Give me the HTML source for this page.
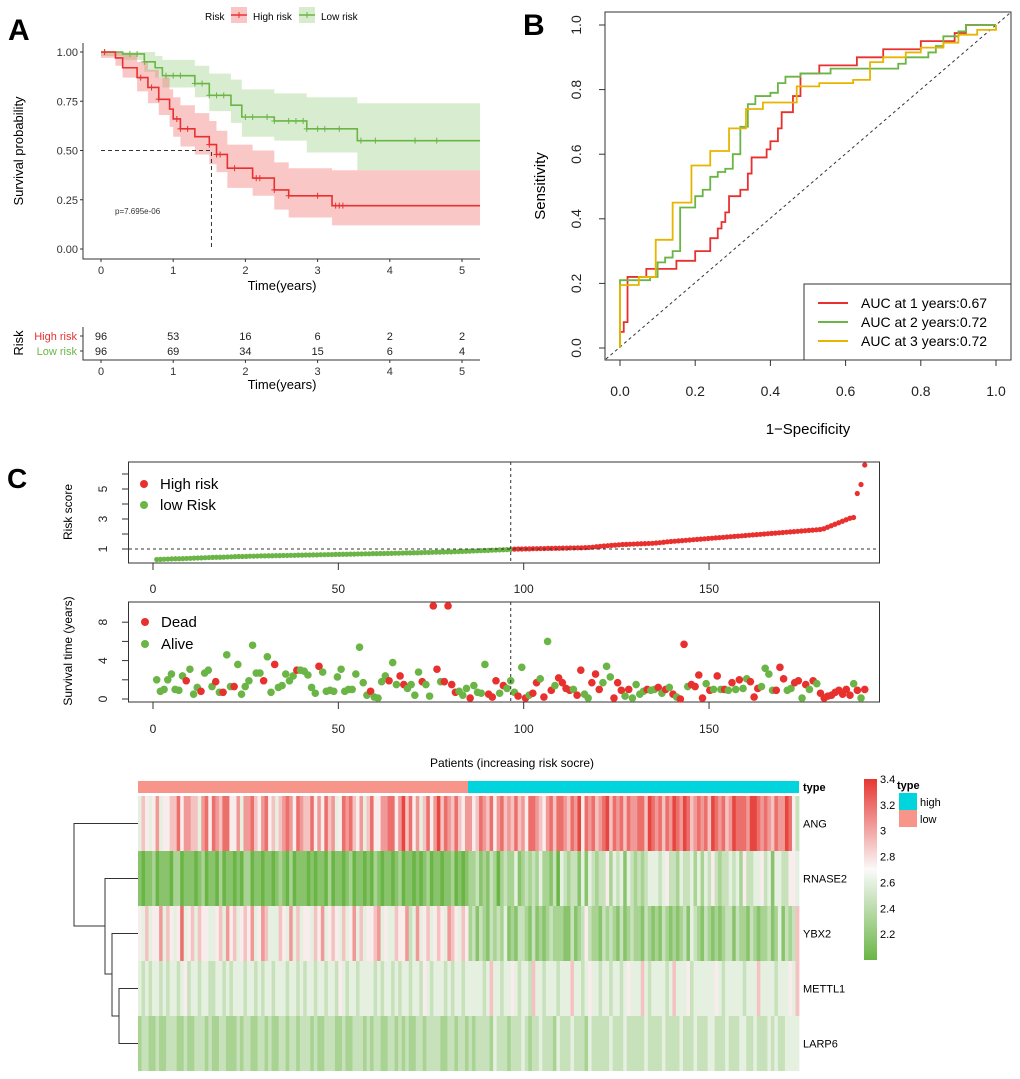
<!DOCTYPE html>
<html><head><meta charset="utf-8"><style>
body{margin:0;background:#fff;}
svg{display:block;font-family:"Liberation Sans",sans-serif;}
</style></head><body>
<svg id="fig" width="1020" height="1079" viewBox="0 0 1020 1079" xmlns="http://www.w3.org/2000/svg">
<g id="A"></g>
<g id="B"></g>
<g id="C1"></g>
<g id="C2"></g>
<g id="H"></g>
</svg>
<script>
// ===== Panel A data =====
const hiT=[0,0.2,0.3,0.5,0.65,0.8,0.95,1.0,1.1,1.3,1.5,1.6,1.75,2.1,2.4,2.6,3.2];
const hiS=[1,0.97,0.92,0.87,0.82,0.76,0.71,0.66,0.61,0.57,0.53,0.48,0.41,0.36,0.30,0.27,0.22];
const hiU=[1,1,0.99,0.95,0.91,0.87,0.81,0.77,0.73,0.69,0.65,0.60,0.53,0.50,0.44,0.41,0.40];
const hiL=[0.97,0.93,0.87,0.80,0.74,0.68,0.62,0.57,0.52,0.48,0.43,0.39,0.31,0.27,0.20,0.16,0.12];
const loT=[0,0.3,0.6,0.75,0.85,1.3,1.5,1.8,1.95,2.4,2.85,3.55];
const loS=[1,0.99,0.95,0.92,0.88,0.84,0.78,0.73,0.67,0.65,0.61,0.55];
const loU=[1,1,1,0.98,0.96,0.93,0.89,0.86,0.81,0.79,0.77,0.74];
const loL=[0.98,0.96,0.90,0.87,0.82,0.77,0.70,0.64,0.57,0.55,0.49,0.40];
const hiCens=[0.05,0.55,0.7,0.8,1.05,1.1,1.2,1.5,1.6,1.65,1.85,2.15,2.2,2.4,2.6,3.0,3.25,3.3,3.35];
const loCens=[0.05,0.4,0.5,0.6,0.9,1.0,1.1,1.3,1.4,1.5,1.6,1.7,2.0,2.1,2.3,2.4,2.6,2.7,2.8,2.85,3.0,3.1,3.3,3.6,3.8,4.35,4.65];
const atRiskHigh=[96,53,16,6,2,2];
const atRiskLow=[96,69,34,15,6,4];
const kmTicksX=[0,1,2,3,4,5];
const kmTicksY=["0.00","0.25","0.50","0.75","1.00"];
// ===== Panel B data =====
const rocRedX=[0,0,0.01,0.01,0.02,0.02,0.07,0.07,0.15,0.15,0.2,0.2,0.24,0.24,0.26,0.26,0.27,0.27,0.28,0.28,0.29,0.29,0.32,0.32,0.34,0.34,0.35,0.35,0.39,0.39,0.4,0.4,0.42,0.42,0.43,0.43,0.46,0.46,0.48,0.48,0.53,0.53,0.63,0.63,0.7,0.7,0.8,0.8,0.89,0.89,0.92,0.92,1];
const rocRedY=[0,0.05,0.05,0.08,0.08,0.22,0.22,0.245,0.245,0.27,0.27,0.3,0.3,0.34,0.34,0.37,0.37,0.39,0.39,0.42,0.42,0.47,0.47,0.49,0.49,0.54,0.54,0.59,0.59,0.615,0.615,0.64,0.64,0.68,0.68,0.73,0.73,0.78,0.78,0.85,0.85,0.875,0.875,0.9,0.9,0.925,0.925,0.95,0.95,0.975,0.975,1,1];
const rocGreenX=[0,0,0.08,0.08,0.1,0.1,0.12,0.12,0.14,0.14,0.16,0.16,0.2,0.2,0.22,0.22,0.24,0.24,0.26,0.26,0.28,0.28,0.3,0.3,0.32,0.32,0.34,0.34,0.36,0.36,0.4,0.4,0.42,0.42,0.44,0.44,0.48,0.48,0.56,0.56,0.74,0.74,0.76,0.76,0.82,0.82,0.84,0.84,0.86,0.86,0.9,0.9,0.92,0.92,1];
const rocGreenY=[0,0.21,0.21,0.22,0.22,0.265,0.265,0.28,0.28,0.3,0.3,0.435,0.435,0.47,0.47,0.49,0.49,0.53,0.53,0.545,0.545,0.555,0.555,0.6,0.6,0.685,0.685,0.755,0.755,0.78,0.78,0.79,0.79,0.82,0.82,0.84,0.84,0.85,0.85,0.865,0.865,0.88,0.88,0.9,0.9,0.915,0.915,0.935,0.935,0.965,0.965,0.98,0.98,1,1];
const rocYellowX=[0,0,0.05,0.05,0.095,0.095,0.14,0.14,0.19,0.19,0.24,0.24,0.29,0.29,0.335,0.335,0.38,0.38,0.47,0.47,0.53,0.53,0.62,0.62,0.665,0.665,0.7,0.7,0.76,0.76,0.8,0.8,0.86,0.86,0.9,0.9,0.95,0.95,1,1];
const rocYellowY=[0,0.195,0.195,0.22,0.22,0.335,0.335,0.45,0.45,0.565,0.565,0.61,0.61,0.68,0.68,0.74,0.74,0.76,0.76,0.81,0.81,0.82,0.82,0.83,0.83,0.885,0.885,0.9,0.9,0.915,0.915,0.93,0.93,0.945,0.945,0.97,0.97,0.985,0.985,1];
const rocLabels=["AUC at 1 years:0.67","AUC at 2 years:0.72","AUC at 3 years:0.72"];
const rocTicks=["0.0","0.2","0.4","0.6","0.8","1.0"];
// ===== Panel C data =====
const riskScores=[0.30,0.31,0.32,0.33,0.34,0.35,0.35,0.36,0.37,0.38,0.39,0.40,0.41,0.42,0.43,0.44,0.45,0.45,0.46,0.47,0.48,0.49,0.50,0.50,0.51,0.52,0.52,0.53,0.54,0.54,0.55,0.55,0.56,0.56,0.57,0.57,0.58,0.58,0.59,0.59,0.60,0.60,0.61,0.61,0.62,0.62,0.63,0.63,0.64,0.64,0.65,0.65,0.66,0.66,0.67,0.67,0.68,0.68,0.69,0.69,0.70,0.70,0.71,0.71,0.72,0.72,0.73,0.74,0.74,0.75,0.75,0.76,0.77,0.77,0.78,0.79,0.79,0.80,0.81,0.81,0.82,0.83,0.84,0.85,0.86,0.87,0.88,0.89,0.90,0.91,0.92,0.93,0.94,0.95,0.96,0.97,
0.99,1.00,1.00,1.01,1.01,1.02,1.02,1.03,1.03,1.04,1.04,1.05,1.05,1.06,1.06,1.07,1.07,1.08,1.08,1.09,1.10,1.12,1.15,1.18,1.20,1.22,1.24,1.26,1.28,1.30,1.31,1.32,1.33,1.34,1.35,1.36,1.37,1.38,1.40,1.42,1.45,1.48,1.50,1.52,1.54,1.56,1.58,1.60,1.62,1.64,1.66,1.68,1.70,1.72,1.74,1.76,1.78,1.80,1.82,1.84,1.86,1.88,1.90,1.92,1.94,1.96,1.98,2.00,2.02,2.04,2.06,2.08,2.10,2.12,2.14,2.16,2.18,2.20,2.22,2.24,2.26,2.28,2.30,2.35,2.45,2.55,2.65,2.75,2.85,2.95,3.05,3.10,4.70,5.30,6.60];
const survTimes=[2.0,0.8,1.0,2.0,2.6,1.0,0.9,2.4,1.9,3.1,0.5,1.2,0.8,2.7,3.0,1.3,1.8,0.7,0.7,4.6,1.3,1.3,3.6,0.5,1.3,1.9,5.6,2.7,2.7,1.9,4.4,0.7,3.6,1.2,1.4,2.6,1.9,2.4,3.0,3.0,2.9,2.5,1.2,0.6,3.4,2.8,0.8,0.9,0.8,2.3,3.1,0.8,1.0,1.0,2.6,5.4,1.7,0.4,0.8,0.2,0.1,1.8,2.4,1.9,3.8,1.5,2.4,1.5,1.1,1.5,0.4,2.8,1.8,1.5,0.3,9.7,3.1,1.8,1.8,9.7,1.5,0.7,0.8,0.4,1.1,0.1,1.4,0.7,0.6,3.6,0.5,0.2,1.9,0.6,1.4,1.1,1.9,0.7,0.3,3.3,0.1,0.4,0.6,1.7,2.1,0.2,6.0,0.9,1.4,2.2,1.7,1.1,0.9,1.0,0.4,3.0,0.5,0.1,1.7,2.6,1.0,1.7,3.4,2.3,0.1,1.7,0.9,0.3,1.0,0.1,1.5,0.5,0.8,1.0,0.9,1.0,1.2,0.6,1.0,1.2,0.5,0.2,0.0,5.7,1.3,1.5,1.3,2.5,0.1,1.6,0.9,1.0,2.4,1.0,1.0,0.9,1.7,1.0,2.0,1.1,2.1,1.8,0.2,1.1,1.3,3.2,2.6,0.9,0.9,3.3,2.1,0.9,1.1,1.7,1.9,0.1,1.5,1.0,1.9,1.6,0.6,0.1,0.3,0.4,0.7,0.9,0.5,1.0,0.4,1.6,0.9,0.1,1.0];
const survStatus="AAAAAAAADAAADAAADADAADAAAAAAADAADAAAAADAAAAADAAAAAAAAAAAAADAAAADAADDAAAADAADDADDDDAAADAAAADDDADAAADADADDADADADDDDADDAADDDAAADDDADAAAADAADADADADDADDDDADADADADADAADDDAAAADDDAADDADADADDDDDDDDDADADAD";
const ctickX=[0,50,100,150];
// ===== Heatmap data (digit d -> value 2.0 + 0.15*d) =====
const genes=["ANG","RNASE2","YBX2","METTL1","LARP6"];
const hmRows=[
"4654574556685776647858768855747786578564678758766857586745878657468557788579685746857968768657"+"7568768578676867588765786887687958786789687868778869878687987986787869878679888799878768779853",
"1011201110220111012011020110102201101101210201110101102011012011010210110120110101201101120101"+"2231213202322412323242213043233141432335243414323234443453324334242435323343425334453414433554",
"5464557465458456465544564756456574576444654746455465745654645746455674544655734745645654765465"+"2313213232412133213121232221131235322132321312322132121321212314321321212331322132122312413236",
"4343443434434534434433443434443443434434443443434434434435434434444343443434434435434443434434"+"4444346443445434436443444344464434544344344345444643444434644453444444543444443444644443444546",
"2332232233322322333232233222323322332322332332333232233322322333232332233232322332333322332332"+"3233332433323334323343332433343332433333433343333343333433334333433344333433344334333434334444"
];
const colorTicks=["3.4","3.2","3","2.8","2.6","2.4","2.2"];
const colorTickVals=[3.4,3.2,3.0,2.8,2.6,2.4,2.2];
</script>
<script>
const NS="http://www.w3.org/2000/svg";
function mk(parent,tag,attrs,text){const e=document.createElementNS(NS,tag);for(const k in attrs)e.setAttribute(k,attrs[k]);if(text!==undefined)e.textContent=text;parent.appendChild(e);return e;}
const RED="#e8312f",GREEN="#6ab546",YEL="#e8b400";

// ================= Panel A =================
(function(){
const g=document.getElementById('A');
const X=t=>101+t*72.2, Y=s=>249-s*197;
let l=mk(g,'text',{x:8,y:40,'font-size':30,'font-weight':'bold'},'A');


// legend
let t=mk(g,'text',{x:205,y:20,'font-size':10},'Risk');


const lg=[[231,"rgba(240,110,110,0.4)",RED,"High risk",253],[299,"rgba(140,200,110,0.35)",GREEN,"Low risk",321]];
lg.forEach(d=>{const gg=mk(g,'g',{});


mk(gg,'rect',{x:d[0],y:7,width:16,height:16,fill:d[1]});
mk(gg,'line',{x1:d[0],x2:d[0]+16,y1:15,y2:15,stroke:d[2],'stroke-width':1.5});
mk(gg,'line',{x1:d[0]+8,x2:d[0]+8,y1:12,y2:18,stroke:d[2],'stroke-width':1});
mk(gg,'text',{x:d[4],y:20,'font-size':10},d[3]);});
// bands
function band(T,U,L,col,name){let up=[],lo=[];for(let i=0;i<T.length;i++){const t1=i+1<T.length?T[i+1]:5.25;up.push([X(T[i]),Y(U[i])],[X(t1),Y(U[i])]);lo.push([X(T[i]),Y(L[i])],[X(t1),Y(L[i])]);}
const pts=up.concat(lo.reverse()).map(p=>p.join(',')).join(' ');
const p=mk(g,'polygon',{points:pts,fill:col});

}
band(loT,loU,loL,"rgba(125,195,95,0.3)","low-risk-ci-band");
band(hiT,hiU,hiL,"rgba(240,95,95,0.35)","high-risk-ci-band");
function curve(T,S,col,name,cens){let d=`M${X(T[0])},${Y(S[0])}`;for(let i=1;i<T.length;i++){d+=`H${X(T[i])}V${Y(S[i])}`;}d+=`H${X(5.25)}`;
const p=mk(g,'path',{d:d,fill:'none',stroke:col,'stroke-width':1.6});


cens.forEach(c=>{let s=S[0];for(let i=0;i<T.length;i++)if(T[i]<=c)s=S[i];
const m=mk(g,'path',{d:`M${X(c)},${Y(s)-3}v6M${X(c)-3},${Y(s)}h6`,stroke:col,'stroke-width':1});

});}
curve(loT,loS,GREEN,"low-risk-curve",loCens);
curve(hiT,hiS,RED,"high-risk-curve",hiCens);
// median lines
const md=mk(g,'path',{d:`M${X(0)},${Y(0.5)}H${X(1.53)}V${Y(0)}`,fill:'none',stroke:'#333','stroke-dasharray':'4,3','stroke-width':1});


// axes
const ax=mk(g,'path',{d:'M83,43V259H480',fill:'none',stroke:'#333','stroke-width':1});


kmTicksY.forEach(v=>{const y=Y(+v);mk(g,'line',{x1:80,x2:83,y1:y,y2:y,stroke:'#333'});
const tt=mk(g,'text',{x:78,y:y+4,'font-size':11,'text-anchor':'end',fill:'#333'},v);

});
kmTicksX.forEach(v=>{const x=X(v);mk(g,'line',{x1:x,x2:x,y1:259,y2:262,stroke:'#333'});
const tt=mk(g,'text',{x:x,y:274,'font-size':11,'text-anchor':'middle',fill:'#333'},v);

});
let xt=mk(g,'text',{x:282,y:290,'font-size':13,'text-anchor':'middle'},'Time(years)');


let yt=mk(g,'text',{x:0,y:0,'font-size':13,'text-anchor':'middle',transform:'translate(23,151) rotate(-90)'},'Survival probability');


let pv=mk(g,'text',{x:115,y:214,'font-size':8,fill:'#333'},'p=7.695e-06');


// risk table
const ra=mk(g,'path',{d:'M83,327V360H480',fill:'none',stroke:'#333','stroke-width':1});


[[atRiskHigh,340,RED,'High risk'],[atRiskLow,355,GREEN,'Low risk']].forEach(r=>{
mk(g,'line',{x1:80,x2:83,y1:r[1]-4,y2:r[1]-4,stroke:'#333'});
const lab=mk(g,'text',{x:77,y:r[1],'font-size':11,'text-anchor':'end',fill:r[2]},r[3]);


r[0].forEach((n,i)=>{const c=mk(g,'text',{x:X(kmTicksX[i]),y:r[1],'font-size':11,'text-anchor':'middle',fill:'#222'},n);

});});
kmTicksX.forEach(v=>{const x=X(v);mk(g,'line',{x1:x,x2:x,y1:360,y2:363,stroke:'#333'});
const tt=mk(g,'text',{x:x,y:375,'font-size':11,'text-anchor':'middle',fill:'#333'},v);

});
let xt2=mk(g,'text',{x:282,y:389,'font-size':13,'text-anchor':'middle'},'Time(years)');


let rt=mk(g,'text',{x:0,y:0,'font-size':13,'text-anchor':'middle',transform:'translate(23,343) rotate(-90)'},'Risk');


})();

// ================= Panel B =================
(function(){
const g=document.getElementById('B');
const X=v=>620+v*376, Y=v=>348-v*323;
let l=mk(g,'text',{x:523,y:35,'font-size':30,'font-weight':'bold'},'B');


const box=mk(g,'rect',{x:605,y:12,width:406,height:348,fill:'none',stroke:'#333','stroke-width':1});


const dg=mk(g,'line',{x1:606,y1:359,x2:1010,y2:13,stroke:'#333','stroke-dasharray':'3,3','stroke-width':1});


[[rocRedX,rocRedY,RED,'roc-curve-1-year'],[rocGreenX,rocGreenY,GREEN,'roc-curve-2-year'],[rocYellowX,rocYellowY,YEL,'roc-curve-3-year']].forEach(c=>{
const pts=c[0].map((x,i)=>X(x)+','+Y(c[1][i])).join(' ');
const p=mk(g,'polyline',{points:pts,fill:'none',stroke:c[2],'stroke-width':1.8});

});
rocTicks.forEach(v=>{const x=X(+v),y=Y(+v);
mk(g,'line',{x1:x,x2:x,y1:360,y2:366,stroke:'#333'});
const tx=mk(g,'text',{x:x,y:396,'font-size':14,'text-anchor':'middle',fill:'#222'},v);


mk(g,'line',{x1:599,x2:605,y1:y,y2:y,stroke:'#333'});
const ty=mk(g,'text',{x:0,y:0,'font-size':14,'text-anchor':'middle',fill:'#222',transform:`translate(581,${y}) rotate(-90)`},v);

});
let xt=mk(g,'text',{x:808,y:434,'font-size':15,'text-anchor':'middle'},'1\u2212Specificity');


let yt=mk(g,'text',{x:0,y:0,'font-size':15,'text-anchor':'middle',transform:'translate(545,186) rotate(-90)'},'Sensitivity');


const lb=mk(g,'rect',{x:804,y:284,width:207,height:76,fill:'#fff',stroke:'#333'});


[RED,GREEN,YEL].forEach((c,i)=>{const y=303+i*19;const gg=mk(g,'g',{});


mk(gg,'line',{x1:818,x2:848,y1:y,y2:y,stroke:c,'stroke-width':2});
mk(gg,'text',{x:861,y:y+5,'font-size':14},rocLabels[i]);});
})();

// ================= Panel C risk score =================
(function(){
const g=document.getElementById('C1');
const n=riskScores.length;
const X=i=>153+(i+1)*3.707*(192/n), Y=v=>549-(v-1)*15;
let l=mk(g,'text',{x:7,y:488,'font-size':28,'font-weight':'bold'},'C');


const box=mk(g,'rect',{x:128.5,y:462,width:751,height:101,fill:'none',stroke:'#333'});


riskScores.forEach((v,i)=>{const c=mk(g,'circle',{cx:X(i),cy:Y(v),r:2.6,fill:i<n/2?GREEN:RED});

});
const hl=mk(g,'line',{x1:129,x2:879,y1:Y(1),y2:Y(1),stroke:'#333','stroke-dasharray':'3,3'});


const vx=153+96.5*3.707;
const vl=mk(g,'line',{x1:vx,x2:vx,y1:462,y2:563,stroke:'#333','stroke-dasharray':'3,3'});


[1,2,3,4,5,6].forEach(v=>{mk(g,'line',{x1:122,x2:128.5,y1:Y(v),y2:Y(v),stroke:'#333'});
if(v%2){const t=mk(g,'text',{x:0,y:0,'font-size':12,'text-anchor':'middle',fill:'#222',transform:`translate(107,${Y(v)}) rotate(-90)`},v);

}});
ctickX.forEach(v=>{const x=153+v*3.707;mk(g,'line',{x1:x,x2:x,y1:563,y2:570,stroke:'#333'});
const t=mk(g,'text',{x:x,y:593,'font-size':12,'text-anchor':'middle',fill:'#222'},v);

});
let yt=mk(g,'text',{x:0,y:0,'font-size':12,'text-anchor':'middle',transform:'translate(72,512) rotate(-90)'},'Risk score');


[[RED,'High risk',484],[GREEN,'low Risk',505]].forEach(d=>{const gg=mk(g,'g',{});


mk(gg,'circle',{cx:144,cy:d[2],r:4,fill:d[0]});
mk(gg,'text',{x:160,y:d[2]+5,'font-size':15},d[1]);});
})();

// ================= Panel C survival =================
(function(){
const g=document.getElementById('C2');
const n=survTimes.length;
const X=i=>153+(1+i*191/(n-1))*3.707, Y=v=>699-v*9.6;
const box=mk(g,'rect',{x:128.5,y:602,width:751,height:100,fill:'none',stroke:'#333'});


survTimes.forEach((v,i)=>{const c=mk(g,'circle',{cx:X(i),cy:Y(v),r:3.8,fill:survStatus[i]==='D'?RED:GREEN});

});
const vx=153+96.5*3.707;
const vl=mk(g,'line',{x1:vx,x2:vx,y1:602,y2:702,stroke:'#333','stroke-dasharray':'3,3'});


[0,2,4,6,8].forEach(v=>{mk(g,'line',{x1:122,x2:128.5,y1:Y(v),y2:Y(v),stroke:'#333'});
if(v%4===0){const t=mk(g,'text',{x:0,y:0,'font-size':12,'text-anchor':'middle',fill:'#222',transform:`translate(107,${Y(v)}) rotate(-90)`},v);

}});
ctickX.forEach(v=>{const x=153+v*3.707;mk(g,'line',{x1:x,x2:x,y1:702,y2:709,stroke:'#333'});
const t=mk(g,'text',{x:x,y:733,'font-size':12,'text-anchor':'middle',fill:'#222'},v);

});
let yt=mk(g,'text',{x:0,y:0,'font-size':12,'text-anchor':'middle',transform:'translate(72,651) rotate(-90)'},'Survival time (years)');


[[RED,'Dead',622],[GREEN,'Alive',644]].forEach(d=>{const gg=mk(g,'g',{});


mk(gg,'circle',{cx:145,cy:d[2],r:4,fill:d[0]});
mk(gg,'text',{x:161,y:d[2]+5,'font-size':15},d[1]);});
let xt=mk(g,'text',{x:512,y:767,'font-size':12,'text-anchor':'middle'},'Patients (increasing risk socre)');


})();

// ================= Heatmap =================
(function(){
const g=document.getElementById('H');
const L=138,R=799,top=796,rh=55;
function col(v){const t=Math.max(0,Math.min(1,(v-2.0)/1.4));const mid=0.5;
const g0=[106,181,70],w=[250,250,250],r0=[230,55,50];
let a,b,f;if(t<mid){a=g0;b=w;f=t/mid;}else{a=w;b=r0;f=(t-mid)/(1-mid);}
return `rgb(${a.map((c,i)=>Math.round(c+(b[i]-c)*f)).join(',')})`;}
// type bar
const tl=mk(g,'rect',{x:L,y:781,width:468-L,height:12,fill:'#f8958a'});


const th=mk(g,'rect',{x:468,y:781,width:R-468,height:12,fill:'#00d5de'});


let tt=mk(g,'text',{x:803,y:791,'font-size':11,'font-weight':'bold'},'type');


hmRows.forEach((row,r)=>{const n=row.length,w=(R-L)/n;
for(let i=0;i<n;i++){const v=2.0+0.15*(+row[i]);
const c=mk(g,'rect',{x:L+i*w,y:top+r*rh,width:w+0.4,height:rh,fill:col(v)});

}
const gl=mk(g,'text',{x:803,y:top+r*rh+rh/2+4,'font-size':11},genes[r]);

});
// dendrogram
const yc=r=>top+r*rh+rh/2;
const d=`M${L},${yc(4)}H119V${yc(3)}H${L}M119,1016H112V${yc(2)}H${L}M112,974H105V${yc(1)}H${L}M105,926H74V${yc(0)}H${L}`;
const dp=mk(g,'path',{d:d,fill:'none',stroke:'#333','stroke-width':1});


// color key
const defs=mk(g,'defs',{});const lgd=mk(defs,'linearGradient',{id:'ck',x1:0,y1:1,x2:0,y2:0});
for(let k=0;k<=10;k++){mk(lgd,'stop',{offset:k/10,'stop-color':col(2.0+1.4*k/10)});}
const ck=mk(g,'rect',{x:864,y:779,width:13,height:181,fill:'url(#ck)'});


colorTicks.forEach((s,i)=>{const y=960-(colorTickVals[i]-2.0)/1.4*181;
const t=mk(g,'text',{x:880,y:y+4,'font-size':11},s);

});
let tl2=mk(g,'text',{x:897,y:789,'font-size':11,'font-weight':'bold'},'type');


[['#00d5de','high',793],['#f8958a','low',810]].forEach(d=>{const gg=mk(g,'g',{});


mk(gg,'rect',{x:899,y:d[2],width:18,height:17,fill:d[0]});
mk(gg,'text',{x:920,y:d[2]+13,'font-size':11},d[1]);});
})();
</script>
</body></html>
